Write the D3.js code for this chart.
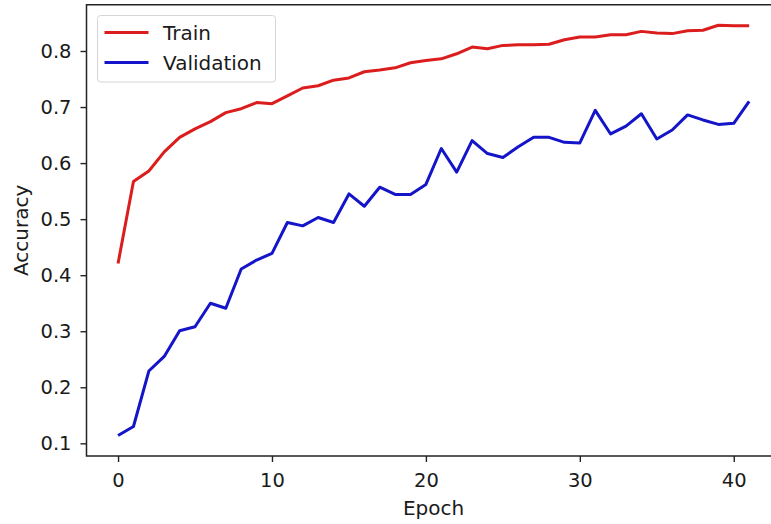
<!DOCTYPE html>
<html>
<head>
<meta charset="utf-8">
<script src="https://cdn.jsdelivr.net/npm/d3@7"></script>
<style>
  body { margin: 0; background: #fff; overflow: hidden; }
  svg { display: block; font-family: "DejaVu Sans", sans-serif; }
</style>
</head>
<body>
<div id="chart"></div>
<script>
const train = [0.421, 0.567, 0.586, 0.620, 0.646, 0.661, 0.674, 0.690, 0.697, 0.708,
    0.706, 0.720, 0.734, 0.738, 0.748, 0.752, 0.763, 0.766, 0.770, 0.779,
    0.783, 0.786, 0.795, 0.807, 0.804, 0.810, 0.811, 0.811, 0.812, 0.820,
    0.825, 0.825, 0.829, 0.829, 0.835, 0.832, 0.831, 0.836, 0.837, 0.846,
    0.845, 0.845]
const validation = [0.114, 0.130, 0.229, 0.255, 0.301, 0.308, 0.350, 0.341, 0.411, 0.427,
    0.439, 0.494, 0.488, 0.503, 0.494, 0.545, 0.523, 0.557, 0.544, 0.544,
    0.562, 0.626, 0.584, 0.640, 0.617, 0.610, 0.629, 0.646, 0.646, 0.637,
    0.636, 0.694, 0.652, 0.666, 0.688, 0.643, 0.659, 0.686, 0.677, 0.669,
    0.671, 0.710]
const xTicks = [0, 10, 20, 30, 40]
const yTicks = [0.1, 0.2, 0.3, 0.4, 0.5, 0.6, 0.7, 0.8]
const series = [
    { name: 'Train', values: train, color: '#dc1d1d' },
    { name: 'Validation', values: validation, color: '#1414c8' }]

const width = 771, height = 524
const plotLeft = 86.5, plotTop = 4.7, plotW = 694.2, plotH = 451.3
const ink = '#1a1a1a'

const svg = d3.select('#chart').append('svg').attr('width', width).attr('height', height)

// matplotlib-style 5% margins around the data
const n = train.length - 1
const xPad = n * 0.05
const all = train.concat(validation)
const lo = d3.min(all), hi = d3.max(all)
const yPad = (hi - lo) * 0.05

const x = d3.scaleLinear().domain([-xPad, n + xPad]).range([plotLeft, plotLeft + plotW])
const y = d3.scaleLinear().domain([lo - yPad, hi + yPad]).range([plotTop + plotH, plotTop])

const line = d3.line().x((d, i) => x(i)).y((d) => y(d))

svg.selectAll('path.series').
    data(series).
    enter().
    append('path').
    attr('class', 'series').
    attr('d', (s) => line(s.values)).
    attr('fill', 'none').
    attr('stroke', (s) => s.color).
    attr('stroke-width', 3).
    attr('stroke-linejoin', 'round')

// spines: left, top, bottom (the right one is cut off by the window)
const x0 = plotLeft, x1 = plotLeft + plotW, y0 = plotTop, y1 = plotTop + plotH
svg.append('path').
    attr('d', `M${x1},${y0}H${x0}V${y1}H${x1}`).
    attr('fill', 'none').attr('stroke', '#222').attr('stroke-width', 1.5)

const xAxis = svg.append('g').
    attr('transform', `translate(0,${y1})`).
    call(d3.axisBottom(x).tickValues(xTicks).tickSize(6).tickPadding(11).tickFormat(d3.format('d')))
const yAxis = svg.append('g').
    attr('transform', `translate(${x0},0)`).
    call(d3.axisLeft(y).tickValues(yTicks).tickSize(6).tickPadding(9).tickFormat(d3.format('.1f')))

for (const ax of [xAxis, yAxis]) {
    ax.select('.domain').remove()
    ax.selectAll('line').attr('stroke', '#222').attr('stroke-width', 1.4)
    ax.selectAll('text').attr('fill', ink).attr('font-size', 19.5).attr('font-family', '"DejaVu Sans", sans-serif')
}

svg.append('text').
    attr('x', (x0 + x1) / 2).attr('y', 515).
    attr('text-anchor', 'middle').attr('font-size', 20).attr('fill', ink).
    text('Epoch')
svg.append('text').
    attr('transform', `translate(27.5,${(y0 + y1) / 2}) rotate(-90)`).
    attr('text-anchor', 'middle').attr('font-size', 20).attr('fill', ink).
    text('Accuracy')

// legend
const legend = svg.append('g').attr('transform', 'translate(97.5,15.5)')
legend.append('rect').
    attr('width', 178).attr('height', 66.5).attr('rx', 3).
    attr('fill', '#fff').attr('fill-opacity', 0.8).
    attr('stroke', '#d6d6d6').attr('stroke-width', 1)
const item = legend.selectAll('g.item').
    data(series).
    enter().
    append('g').
    attr('transform', (d, i) => `translate(0,${17 + i * 30})`)
item.append('line').
    attr('x1', 7).attr('x2', 51).
    attr('stroke', (d) => d.color).attr('stroke-width', 3)
item.append('text').
    attr('x', 65.5).attr('dy', '0.36em').
    attr('font-size', 20).attr('fill', ink).
    text((d) => d.name)
</script>
</body>
</html>
